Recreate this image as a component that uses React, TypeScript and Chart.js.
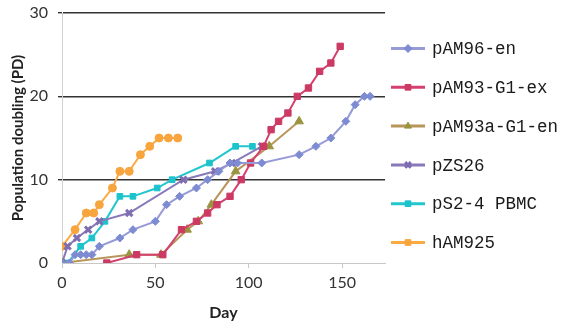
import React, { useEffect, useRef } from "react";
import { Chart, registerables } from "chart.js";
import { drawPoint } from "chart.js/helpers";

Chart.register(...registerables);

const seriesNames = ["pAM96-en", "pAM93-G1-ex", "pAM93a-G1-en", "pZS26", "pS2-4 PBMC", "hAM925"];

const pam96Days = [0, 4, 7, 10, 13, 16, 20, 31, 38, 50, 56, 63, 72, 78, 84, 90, 94, 107, 127, 136, 144, 152, 157, 162, 165];
const pam96PD = [0, 0, 1, 1, 1, 1, 2, 3, 4, 5, 7, 8, 9, 10, 11, 12, 12, 12, 13, 14, 15, 17, 19, 20, 20];

const pam93Days = [24, 40, 54, 64, 72, 78, 83, 90, 96, 101, 108, 112, 116, 121, 126, 132, 138, 144, 149];
const pam93PD = [0, 1, 1, 4, 5, 6, 7, 8, 10, 12, 14, 16, 17, 18, 20, 21, 23, 24, 26];

const pam93aDays = [0, 36, 53, 67, 73, 80, 93, 111, 127];
const pam93aPD = [0, 1, 1, 4, 5, 7, 11, 14, 17];

const pzsDays = [0, 3, 8, 14, 20, 36, 65, 82, 91, 107];
const pzsPD = [0, 2, 3, 4, 5, 6, 10, 11, 12, 14];

const ps2Days = [0, 3, 10, 16, 23, 31, 38, 51, 59, 79, 93, 102];
const ps2PD = [0, 0, 2, 3, 5, 8, 8, 9, 10, 12, 14, 14];

const hamDays = [0, 7, 13, 17, 20, 27, 31, 36, 42, 47, 52, 57, 62];
const hamPD = [2, 4, 6, 6, 7, 9, 11, 11, 13, 14, 15, 15, 15];

const xTicks = [0, 50, 100, 150];
const yTicks = [0, 10, 20, 30];

const lineColors = ["#969ad6", "#d4406f", "#b8965a", "#8a79b9", "#22c6cf", "#f9ab45"];
const markerColors = ["#7d8bd2", "#cc3a64", "#9a9440", "#7f6db2", "#1cc3cd", "#f8a53d"];
const markerStyles = ["rectRot", "rect", "triangle", "crossRot", "rect", "circle"];
const markerRadii = [4, 4.5, 5, 4.5, 4, 4];

function pairs(days: number[], vals: number[]) {
  return days.map((d, i) => ({ x: d, y: vals[i] }));
}

const allDays = [pam96Days, pam93Days, pam93aDays, pzsDays, ps2Days, hamDays];
const allPD = [pam96PD, pam93PD, pam93aPD, pzsPD, ps2PD, hamPD];

const legendPlugin = {
  id: "customLegend",
  afterDraw(ch: any) {
    const ctx = ch.ctx;
    ctx.save();
    ch.data.datasets.forEach((ds: any, i: number) => {
      const y = 48.5 + i * 38.8;
      ctx.strokeStyle = ds.borderColor;
      ctx.lineWidth = 3;
      ctx.beginPath();
      ctx.moveTo(391, y);
      ctx.lineTo(425, y);
      ctx.stroke();
      ctx.fillStyle = ds.pointBackgroundColor;
      ctx.strokeStyle = ds.pointBorderColor;
      ctx.lineWidth = ds.pointBorderWidth;
      drawPoint(
        ctx,
        {
          pointStyle: ds.pointStyle === "circle" ? "rect" : ds.pointStyle,
          radius: 4,
          borderWidth: ds.pointBorderWidth,
          rotation: 0,
        } as any,
        408,
        y
      );
      ctx.fillStyle = "#1a1a1a";
      ctx.font = "17.5px 'Liberation Mono'";
      ctx.textBaseline = "middle";
      ctx.textAlign = "left";
      ctx.fillText(ds.label, 432, y + 1);
    });
    ctx.restore();
  },
};

export default function App() {
  const ref = useRef<HTMLCanvasElement | null>(null);
  useEffect(() => {
    if (!ref.current) return;
    const datasets = seriesNames.map((name, i) => ({
      label: name,
      data: pairs(allDays[i], allPD[i]),
      borderColor: lineColors[i],
      borderWidth: 2,
      pointStyle: markerStyles[i],
      pointRadius: markerRadii[i],
      pointBackgroundColor: markerColors[i],
      pointBorderColor: markerColors[i],
      pointBorderWidth: markerStyles[i] === "crossRot" ? 3 : 1,
      tension: 0,
      fill: false,
    }));
    const chart = new Chart(ref.current, {
      type: "line",
      data: { datasets },
      options: {
        animation: false,
        responsive: false,
        maintainAspectRatio: false,
        layout: { padding: { left: 0, top: 13, right: 176, bottom: 0 } },
        plugins: {
          legend: { display: false },
          tooltip: { enabled: false },
        },
        scales: {
          x: {
            type: "linear",
            min: 0,
            max: 173,
            afterBuildTicks: (scale: any) => {
              scale.ticks = xTicks.map((v) => ({ value: v }));
            },
            afterFit: (scale: any) => {
              scale.height = 63;
              scale.paddingLeft = 0;
              scale.paddingRight = 0;
            },
            grid: {
              drawOnChartArea: false,
              drawTicks: true,
              tickLength: 5,
              color: "#c8c8c8",
            },
            border: { color: "#c8c8c8", width: 1 },
            ticks: {
              color: "#333",
              font: { family: "Lato", size: 16 },
              padding: 5,
              maxRotation: 0,
            },
            title: {
              display: true,
              text: "Day",
              color: "#222",
              font: { family: "Lato", size: 16, weight: "bold" },
              padding: { top: 0, bottom: 4 },
            },
          },
          y: {
            type: "linear",
            min: 0,
            max: 30,
            afterBuildTicks: (scale: any) => {
              scale.ticks = yTicks.map((v) => ({ value: v }));
            },
            afterFit: (scale: any) => {
              scale.width = 62;
              scale.paddingTop = 0;
              scale.paddingBottom = 0;
            },
            grid: {
              color: (c: any) => (c.tick && c.tick.value === 0 ? "rgba(0,0,0,0)" : "#333"),
              lineWidth: 1.4,
              tickLength: 4,
            },
            border: { color: "#d0d0d0", width: 1 },
            ticks: {
              color: "#333",
              font: { family: "Lato", size: 16 },
              padding: 10,
            },
            title: {
              display: true,
              text: "Population doubling (PD)",
              color: "#222",
              font: { family: "Lato", size: 15, weight: "bold" },
              padding: { top: 9, bottom: 0 },
            },
          },
        },
      },
      plugins: [legendPlugin],
    });
    return () => chart.destroy();
  }, []);
  return (
    <div style={{ position: "fixed", left: 0, top: 0, width: 561, height: 326, background: "#fff" }}>
      <canvas ref={ref} width={561} height={326} style={{ display: "block", width: 561, height: 326 }} />
    </div>
  );
}
